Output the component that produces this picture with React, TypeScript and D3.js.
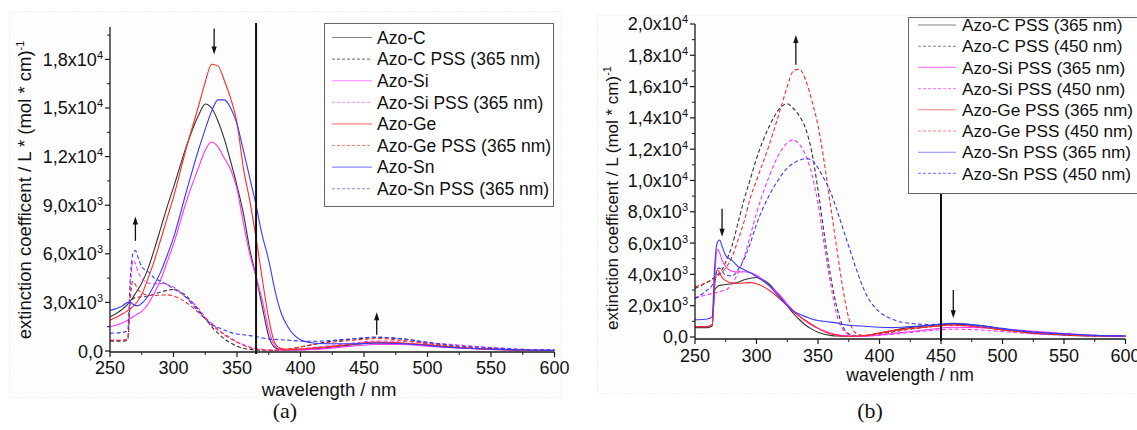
import React from "react";
import * as d3 from "d3";

// wavelength grid (nm)
const WL = [250, 260, 264, 266, 268, 270, 272, 275, 280, 285, 290, 295, 300, 310, 320, 325, 330, 335, 340, 345, 350, 355, 360, 365, 370, 375, 380, 385, 390, 400, 410, 420, 440, 460, 480, 500, 520, 550, 575, 600];

// extinction coefficients in 10^3 L/(mol*cm)
const AZO_C = [2.1, 2.6, 2.9, 3.1, 3.3, 3.55, 3.8, 4.2, 5.1, 6.3, 7.6, 8.9, 10.1, 12.6, 14.6, 15.25, 15.0, 14.2, 13.1, 11.7, 10.2, 8.5, 6.3, 4.6, 2.7, 0.9, 0.2, 0.08, 0.06, 0.08, 0.12, 0.2, 0.38, 0.5, 0.48, 0.35, 0.22, 0.1, 0.05, 0.03];
const AZO_SI = [1.5, 1.75, 1.9, 2.0, 2.1, 2.2, 2.3, 2.45, 2.9, 3.6, 4.4, 5.5, 6.6, 9.2, 11.4, 12.4, 12.9, 12.6, 11.9, 11.2, 10.0, 7.9, 6.0, 4.6, 3.1, 1.3, 0.3, 0.1, 0.06, 0.07, 0.1, 0.15, 0.3, 0.4, 0.4, 0.3, 0.2, 0.1, 0.05, 0.03];
const AZO_GE = [1.9, 2.3, 2.5, 2.6, 2.75, 2.9, 3.1, 3.5, 4.5, 5.6, 6.9, 8.2, 9.5, 12.5, 15.2, 16.6, 17.7, 17.6, 16.7, 15.6, 14.1, 11.3, 9.3, 7.0, 4.4, 2.0, 0.45, 0.15, 0.1, 0.12, 0.18, 0.25, 0.42, 0.55, 0.5, 0.38, 0.25, 0.12, 0.06, 0.03];
const AZO_SN = [2.5, 2.8, 3.0, 3.0, 2.9, 2.8, 2.8, 2.95, 3.4, 4.1, 4.9, 5.9, 7.0, 9.8, 12.5, 13.7, 14.8, 15.5, 15.5, 15.0, 14.0, 12.4, 10.7, 9.0, 7.1, 5.6, 3.7, 2.3, 1.5, 0.7, 0.5, 0.45, 0.45, 0.5, 0.45, 0.35, 0.22, 0.12, 0.06, 0.04];

const AZO_C_PSS365 = [0.6, 0.6, 0.7, 3.0, 3.2, 3.3, 3.32, 3.35, 3.4, 3.5, 3.65, 3.75, 3.8, 3.4, 2.5, 2.0, 1.5, 1.1, 0.75, 0.5, 0.3, 0.17, 0.1, 0.06, 0.05, 0.05, 0.05, 0.07, 0.1, 0.25, 0.4, 0.55, 0.72, 0.82, 0.75, 0.5, 0.28, 0.12, 0.06, 0.04];
const AZO_SI_PSS365 = [0.66, 0.66, 0.8, 3.8, 5.6, 5.4, 4.9, 4.5, 4.2, 4.15, 4.17, 4.1, 3.95, 3.3, 2.6, 2.1, 1.7, 1.35, 1.0, 0.75, 0.55, 0.4, 0.25, 0.15, 0.1, 0.06, 0.05, 0.05, 0.07, 0.13, 0.22, 0.3, 0.48, 0.62, 0.6, 0.5, 0.4, 0.22, 0.1, 0.06];
const AZO_GE_PSS365 = [0.66, 0.66, 0.8, 3.2, 4.3, 4.1, 3.8, 3.6, 3.45, 3.43, 3.45, 3.47, 3.4, 3.0, 2.35, 2.0, 1.6, 1.3, 1.05, 0.8, 0.55, 0.35, 0.2, 0.12, 0.06, 0.05, 0.05, 0.07, 0.1, 0.25, 0.4, 0.5, 0.65, 0.77, 0.66, 0.45, 0.3, 0.15, 0.08, 0.06];
const AZO_SN_PSS365 = [1.1, 1.15, 1.3, 4.5, 6.0, 6.2, 5.8, 5.2, 4.9, 4.5, 4.3, 4.1, 3.85, 3.3, 2.4, 2.0, 1.65, 1.45, 1.3, 1.15, 1.05, 1.0, 0.95, 0.9, 0.8, 0.75, 0.72, 0.7, 0.67, 0.62, 0.6, 0.63, 0.75, 0.87, 0.75, 0.55, 0.35, 0.2, 0.1, 0.06];

const AZO_C_PSS450 = [3.1, 3.5, 3.7, 3.8, 3.95, 4.1, 4.3, 4.8, 5.8, 7.3, 8.8, 10.1, 11.4, 13.4, 14.7, 14.9, 14.6, 14.1, 13.3, 11.8, 9.4, 6.6, 4.0, 2.0, 0.7, 0.2, 0.08, 0.06, 0.08, 0.2, 0.32, 0.45, 0.65, 0.78, 0.7, 0.5, 0.3, 0.15, 0.07, 0.04];
const AZO_SI_PSS450 = [2.5, 2.7, 2.78, 2.82, 2.86, 2.9, 2.95, 3.0, 3.4, 4.1, 5.1, 6.5, 7.9, 10.2, 11.9, 12.4, 12.6, 12.3, 11.6, 10.4, 8.5, 5.9, 3.5, 1.5, 0.5, 0.15, 0.05, 0.04, 0.05, 0.1, 0.17, 0.25, 0.4, 0.5, 0.45, 0.35, 0.22, 0.12, 0.06, 0.03];
const AZO_GE_PSS450 = [3.2, 3.5, 3.65, 3.75, 3.85, 4.0, 4.15, 4.4, 5.1, 6.2, 7.4, 8.9, 10.0, 12.2, 14.7, 16.0, 17.0, 17.1, 16.4, 15.1, 13.5, 11.2, 8.5, 5.8, 3.2, 1.2, 0.3, 0.12, 0.1, 0.2, 0.32, 0.45, 0.65, 0.75, 0.65, 0.45, 0.3, 0.15, 0.08, 0.05];
const AZO_SN_PSS450 = [2.45, 3.0, 3.3, 3.6, 4.3, 4.4, 4.2, 3.95, 3.9, 4.3, 5.0, 6.0, 7.2, 9.0, 10.3, 10.8, 11.1, 11.3, 11.4, 11.3, 10.8, 10.1, 9.3, 8.2, 7.0, 5.8, 4.6, 3.5, 2.6, 1.6, 1.15, 0.92, 0.8, 0.85, 0.7, 0.5, 0.35, 0.2, 0.1, 0.06];

const X_TICKS = [250, 300, 350, 400, 450, 500, 550, 600];
const X_MINOR = [275, 325, 375, 425, 475, 525, 575];
const LEFT_Y_TICKS = [0, 3000, 6000, 9000, 12000, 15000, 18000];
const LEFT_Y_MINOR = [1500, 4500, 7500, 10500, 13500, 16500, 19500];
const RIGHT_Y_TICKS = [0, 2000, 4000, 6000, 8000, 10000, 12000, 14000, 16000, 18000, 20000];
const RIGHT_Y_MINOR = [1000, 3000, 5000, 7000, 9000, 11000, 13000, 15000, 17000, 19000];

const LEFT_MARK = 365;
const RIGHT_MARK = 450;
const LEFT_ARROWS = [
  { wl: 332, from: 19900, to: 18300 },
  { wl: 270, from: 6800, to: 8300 },
  { wl: 460, from: 1000, to: 2400 },
];
const RIGHT_ARROWS = [
  { wl: 332, from: 17400, to: 19300 },
  { wl: 272, from: 8200, to: 6400 },
  { wl: 460, from: 3000, to: 1200 },
];

const COL = { C: "#333333", Si: "#ff33ff", Ge: "#ff2b2b", Sn: "#3a3aff" };

type Series = { name: string; values: number[]; color: string; dashed: boolean };

const LEFT_SERIES: Series[] = [
  { name: "Azo-C", values: AZO_C, color: COL.C, dashed: false },
  { name: "Azo-C PSS (365 nm)", values: AZO_C_PSS365, color: COL.C, dashed: true },
  { name: "Azo-Si", values: AZO_SI, color: COL.Si, dashed: false },
  { name: "Azo-Si PSS (365 nm)", values: AZO_SI_PSS365, color: COL.Si, dashed: true },
  { name: "Azo-Ge", values: AZO_GE, color: COL.Ge, dashed: false },
  { name: "Azo-Ge PSS (365 nm)", values: AZO_GE_PSS365, color: COL.Ge, dashed: true },
  { name: "Azo-Sn", values: AZO_SN, color: COL.Sn, dashed: false },
  { name: "Azo-Sn PSS (365 nm)", values: AZO_SN_PSS365, color: COL.Sn, dashed: true },
];

const RIGHT_SERIES: Series[] = [
  { name: "Azo-C PSS (365 nm)", values: AZO_C_PSS365, color: COL.C, dashed: false },
  { name: "Azo-C PSS (450 nm)", values: AZO_C_PSS450, color: COL.C, dashed: true },
  { name: "Azo-Si PSS (365 nm)", values: AZO_SI_PSS365, color: COL.Si, dashed: false },
  { name: "Azo-Si PSS (450 nm)", values: AZO_SI_PSS450, color: COL.Si, dashed: true },
  { name: "Azo-Ge PSS (365 nm)", values: AZO_GE_PSS365, color: COL.Ge, dashed: false },
  { name: "Azo-Ge PSS (450 nm)", values: AZO_GE_PSS450, color: COL.Ge, dashed: true },
  { name: "Azo-Sn PSS (365 nm)", values: AZO_SN_PSS365, color: COL.Sn, dashed: false },
  { name: "Azo-Sn PSS (450 nm)", values: AZO_SN_PSS450, color: COL.Sn, dashed: true },
];

type Cfg = {
  x0: number; x1: number; yTop: number; yBottom: number; yMin: number; yMax: number;
  series: Series[]; yTicks: number[]; yMinor: number[]; mark: number; markExtra: number;
  arrows: { wl: number; from: number; to: number }[];
  legend: { x: number; y: number; w: number; h: number; row0: number; dy: number; l0: number; l1: number; tx: number; fs: number };
  frame: { x: number; y: number; w: number; h: number };
  tickFs: number; xLabelY: number;
  yTitle: string; yTitleX: number; yTitleY: number; yTitleFs: number;
  xTitleX: number; xTitleY: number; xTitleFs: number;
  tag: string; tagX: number; tagY: number;
};

const LEFT: Cfg = {
  x0: 110, x1: 554.5, yTop: 27, yBottom: 352, yMin: -60, yMax: 20000,
  series: LEFT_SERIES, yTicks: LEFT_Y_TICKS, yMinor: LEFT_Y_MINOR, mark: LEFT_MARK, markExtra: 4,
  arrows: LEFT_ARROWS,
  legend: { x: 324, y: 23, w: 229, h: 183, row0: 37.5, dy: 21.6, l0: 332, l1: 372, tx: 377, fs: 17.5 },
  frame: { x: 9.5, y: 11.5, w: 552, h: 386 },
  tickFs: 18, xLabelY: 374,
  yTitle: "extinction coefficent / L * (mol * cm)", yTitleX: 24, yTitleY: 190, yTitleFs: 18.5,
  xTitleX: 329, xTitleY: 396, xTitleFs: 18.5,
  tag: "(a)", tagX: 285, tagY: 418,
};

const RIGHT: Cfg = {
  x0: 695, x1: 1125.5, yTop: 24, yBottom: 339, yMin: -130, yMax: 20000,
  series: RIGHT_SERIES, yTicks: RIGHT_Y_TICKS, yMinor: RIGHT_Y_MINOR, mark: RIGHT_MARK, markExtra: 0,
  arrows: RIGHT_ARROWS,
  legend: { x: 908, y: 17, w: 240, h: 176, row0: 25, dy: 21.2, l0: 918, l1: 956, tx: 962, fs: 17.2 },
  frame: { x: 597.5, y: 15.5, w: 560, h: 378 },
  tickFs: 18, xLabelY: 362,
  yTitle: "extinction coefficent / L (mol * cm)", yTitleX: 612, yTitleY: 198, yTitleFs: 17,
  xTitleX: 910, xTitleY: 381, xTitleFs: 17.5,
  tag: "(b)", tagX: 870, tagY: 418,
};

function tickParts(v: number): [string, string | null] {
  if (v === 0) return ["0,0", null];
  const e = Math.floor(Math.log10(v) + 1e-9);
  const m = (v / Math.pow(10, e)).toFixed(1).replace(".", ",");
  return [m + "x10", String(e)];
}

function Panel({ cfg }: { cfg: Cfg }) {
  const x = d3.scaleLinear().domain([250, 600]).range([cfg.x0, cfg.x1]);
  const y = d3.scaleLinear().domain([cfg.yMin, cfg.yMax]).range([cfg.yBottom, cfg.yTop]);
  const line = d3
    .line<number>()
    .x((_, i) => x(WL[i]))
    .y((v) => y(v * 1000))
    .curve(d3.curveMonotoneX);
  const axisCol = "#1a1a1a";
  const L = cfg.legend;
  return (
    <g>
      <rect x={cfg.frame.x} y={cfg.frame.y} width={cfg.frame.w} height={cfg.frame.h} fill="#fdfdfd" stroke="#e4e4e4" strokeDasharray="1 2" />
      {/* curves */}
      {cfg.series.map((s) => (
        <path key={s.name} d={line(s.values) || ""} fill="none" stroke={s.color} strokeWidth={1.1} strokeDasharray={s.dashed ? "4 2.5" : undefined} />
      ))}
      {/* axes */}
      <line x1={cfg.x0} x2={cfg.x0} y1={cfg.yTop} y2={cfg.yBottom} stroke={axisCol} strokeWidth={1.3} />
      <line x1={cfg.x0} x2={cfg.x1} y1={cfg.yBottom} y2={cfg.yBottom} stroke={axisCol} strokeWidth={1.3} />
      {cfg.yTicks.map((t) => {
        const [m, e] = tickParts(t);
        return (
          <g key={"y" + t}>
            <line x1={cfg.x0 - 5} x2={cfg.x0} y1={y(t)} y2={y(t)} stroke={axisCol} strokeWidth={1.2} />
            <text x={cfg.x0 - 7} y={y(t)} dy="0.36em" textAnchor="end" fontSize={cfg.tickFs} fill="#111">
              {m}
              {e && (
                <tspan dy={-7} fontSize={11}>
                  {e}
                </tspan>
              )}
            </text>
          </g>
        );
      })}
      {cfg.yMinor.map((t) => (
        <line key={"ym" + t} x1={cfg.x0 - 3} x2={cfg.x0} y1={y(t)} y2={y(t)} stroke={axisCol} strokeWidth={1} />
      ))}
      {X_TICKS.map((t) => (
        <g key={"x" + t}>
          <line x1={x(t)} x2={x(t)} y1={cfg.yBottom} y2={cfg.yBottom + 5} stroke={axisCol} strokeWidth={1.2} />
          <text x={x(t)} y={cfg.xLabelY} textAnchor="middle" fontSize={cfg.tickFs} fill="#111">
            {t}
          </text>
        </g>
      ))}
      {X_MINOR.map((t) => (
        <line key={"xm" + t} x1={x(t)} x2={x(t)} y1={cfg.yBottom} y2={cfg.yBottom + 3} stroke={axisCol} strokeWidth={1} />
      ))}
      {/* irradiation wavelength marker */}
      <line x1={x(cfg.mark)} x2={x(cfg.mark)} y1={y(cfg.yMax) - cfg.markExtra} y2={cfg.yBottom + 2} stroke="#111" strokeWidth={2} />
      {/* legend */}
      <rect x={L.x + 0.5} y={L.y + 0.5} width={L.w} height={L.h} fill="#fff" stroke="#666" strokeWidth={1} />
      {cfg.series.map((s, i) => {
        const yy = L.row0 + i * L.dy;
        return (
          <g key={"lg" + s.name}>
            <line x1={L.l0} x2={L.l1} y1={yy} y2={yy} stroke={s.color} strokeOpacity={0.6} strokeWidth={1.1} strokeDasharray={s.dashed ? "3 2" : undefined} />
            <text x={L.tx} y={yy} dy="0.36em" fontSize={L.fs} fill="#111">
              {s.name}
            </text>
          </g>
        );
      })}
      {/* arrows */}
      {cfg.arrows.map((a, i) => {
        const ax = x(a.wl);
        const fy = y(a.from);
        const ty = y(a.to);
        const dir = ty > fy ? 1 : -1;
        return (
          <g key={"ar" + i}>
            <line x1={ax} x2={ax} y1={fy} y2={ty - dir * 6} stroke="#111" strokeWidth={1.3} />
            <path d={`M${ax},${ty} L${ax - 2.6},${ty - dir * 8} L${ax + 2.6},${ty - dir * 8} Z`} fill="#111" />
          </g>
        );
      })}
      {/* titles */}
      <text transform={`translate(${cfg.yTitleX},${cfg.yTitleY}) rotate(-90)`} dy="0.36em" textAnchor="middle" fontSize={cfg.yTitleFs} fill="#111">
        {cfg.yTitle}
        <tspan dy={-7} fontSize={11}>
          -1
        </tspan>
      </text>
      <text x={cfg.xTitleX} y={cfg.xTitleY} textAnchor="middle" fontSize={cfg.xTitleFs} fill="#111">
        wavelength / nm
      </text>
      <text x={cfg.tagX} y={cfg.tagY} textAnchor="middle" fontSize={22} fill="#111" fontFamily="'Liberation Serif', 'DejaVu Serif', serif">
        {cfg.tag}
      </text>
    </g>
  );
}

export default function App() {
  return (
    <div style={{ position: "absolute", left: 0, top: 0, width: 1137, height: 430, background: "#fff", overflow: "hidden" }}>
      <svg width={1137} height={430} viewBox="0 0 1137 430" style={{ display: "block" }} fontFamily="'Liberation Sans', Arial, sans-serif">
        <rect x={0} y={0} width={1137} height={430} fill="#fff" />
        <Panel cfg={LEFT} />
        <Panel cfg={RIGHT} />
      </svg>
    </div>
  );
}
